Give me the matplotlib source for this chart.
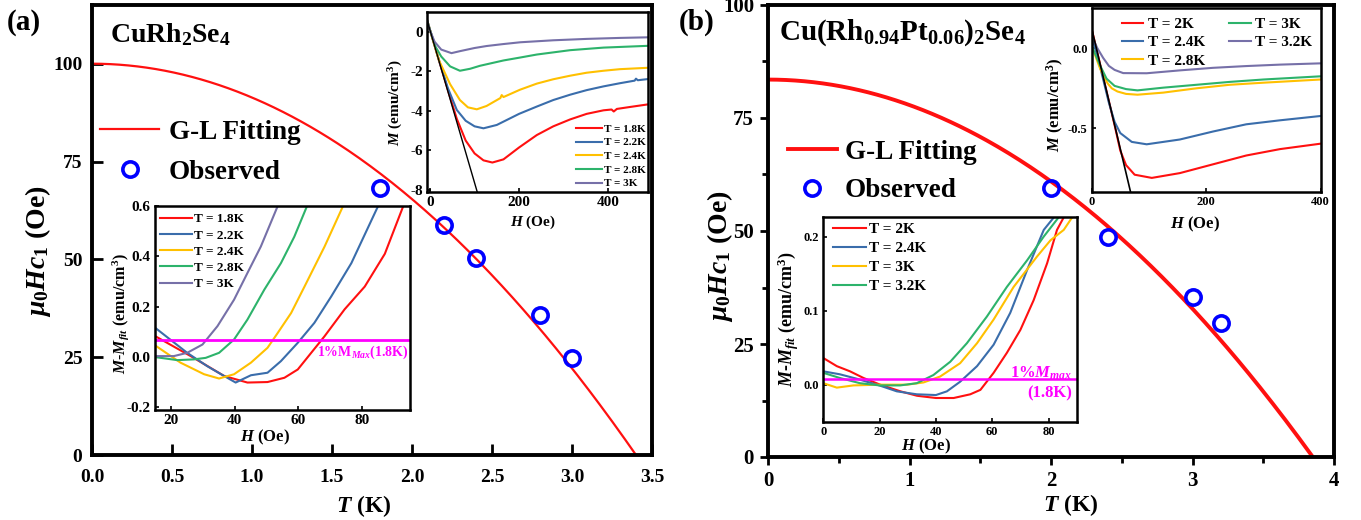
import matplotlib
matplotlib.use("Agg")
import matplotlib.pyplot as plt
from matplotlib.ticker import MultipleLocator, FixedLocator
import numpy as np

plt.rcParams['font.family'] = ['Liberation Serif', 'DejaVu Serif']
plt.rcParams['font.weight'] = 'bold'
plt.rcParams['axes.labelweight'] = 'bold'
plt.rcParams['mathtext.fontset'] = 'custom'
plt.rcParams['mathtext.rm'] = 'Liberation Serif:bold'
plt.rcParams['mathtext.it'] = 'Liberation Serif:italic:bold'
plt.rcParams['mathtext.bf'] = 'Liberation Serif:bold'
plt.rcParams['axes.unicode_minus'] = False

W, H = 1361, 520

RED = "#FF1010"
BLUE = "#3A6DAB"
YELLOW = "#FFC000"
GREEN = "#2DB36B"
PURPLE = "#7670A8"
MAGENTA = "#FF00FF"
OBS = "#0000FF"

# ---- (a) CuRh2Se4 ----
t_obs_a = [1.8, 2.2, 2.4, 2.8, 3.0]
hc1_obs_a = [68.3, 58.8, 50.4, 35.8, 24.8]
hc1_zero_a = 100.0
tc_a = 3.4

# M(H) loops, inset of (a)
temps_a = ["T = 1.8K", "T = 2.2K", "T = 2.4K", "T = 2.8K", "T = 3K"]
mh_a = {
    "T = 1.8K": ([-7, 0, 20, 40, 60, 80, 100, 120, 140, 165, 200, 240, 277, 315, 352, 390, 408, 413, 420, 450, 490],
                 [0.6, 0.07, -1.45, -2.95, -4.4, -5.5, -6.15, -6.5, -6.61, -6.45, -5.85, -5.22, -4.78, -4.43,
                  -4.15, -3.97, -3.93, -4.03, -3.9, -3.8, -3.67]),
    "T = 2.2K": ([-7, 0, 20, 40, 60, 80, 100, 120, 150, 200, 240, 277, 315, 352, 390, 427, 460, 463, 467, 490],
                 [0.6, 0.07, -1.45, -2.85, -3.95, -4.5, -4.78, -4.88, -4.71, -4.15, -3.78, -3.45, -3.18, -2.95,
                  -2.76, -2.6, -2.47, -2.37, -2.45, -2.39]),
    "T = 2.4K": ([-7, 0, 20, 45, 67, 85, 105, 127, 158, 161, 165, 202, 240, 277, 315, 352, 390, 427, 490],
                 [0.6, 0.07, -1.45, -2.65, -3.45, -3.82, -3.92, -3.75, -3.35, -3.2, -3.3, -2.93, -2.62, -2.4,
                  -2.22, -2.07, -1.97, -1.89, -1.82]),
    "T = 2.8K": ([-7, 0, 12, 25, 45, 67, 90, 112, 165, 203, 240, 315, 390, 490],
                 [0.6, 0.07, -0.75, -1.25, -1.75, -1.97, -1.87, -1.72, -1.45, -1.3, -1.15, -0.93, -0.8, -0.71]),
    "T = 3K": ([-7, 0, 10, 25, 48, 67, 100, 127, 165, 203, 277, 352, 427, 490],
               [0.6, 0.05, -0.5, -0.9, -1.08, -0.98, -0.82, -0.72, -0.62, -0.53, -0.43, -0.36, -0.31, -0.28]),
}
meissner_a = ([-7, 106], [0.6, -8.1])

# M - M_fit vs H, inset of (a)
dm_a = {
    "T = 1.8K": ([15.1, 26.2, 36.7, 44.0, 50.3, 55.6, 59.8, 64.0, 68.2, 74.5, 80.8, 87.1, 92.9],
                 [0.083, 0.004, -0.075, -0.101, -0.099, -0.082, -0.049, 0.017, 0.083, 0.19, 0.28, 0.41, 0.6]),
    "T = 2.2K": ([15.1, 25.1, 31.4, 36.7, 40.3, 45.1, 50.3, 54.5, 59.8, 65.0, 70.3, 76.6, 85.0],
                 [0.116, 0.017, -0.036, -0.075, -0.101, -0.072, -0.062, -0.016, 0.057, 0.136, 0.241, 0.373, 0.6]),
    "T = 2.4K": ([15.1, 23.0, 30.4, 35.1, 39.8, 45.1, 50.3, 53.5, 57.7, 61.9, 68.2, 74.0],
                 [0.046, -0.022, -0.068, -0.085, -0.068, -0.022, 0.037, 0.096, 0.175, 0.28, 0.439, 0.6]),
    "T = 2.8K": ([15.1, 22.0, 27.2, 30.9, 35.1, 39.8, 44.0, 49.3, 54.5, 58.7, 62.7],
                 [0.0, -0.012, -0.009, -0.003, 0.017, 0.07, 0.149, 0.268, 0.373, 0.478, 0.6]),
    "T = 3K": ([15.1, 20.9, 25.1, 29.9, 34.6, 39.8, 44.0, 48.2, 53.5],
               [0.004, 0.004, 0.017, 0.05, 0.123, 0.228, 0.334, 0.439, 0.6]),
}
level_a = 0.066

# ---- (b) Cu(Rh0.94Pt0.06)2Se4 ----
t_obs_b = [2.0, 2.4, 3.0, 3.2]
hc1_obs_b = [59.5, 48.7, 35.5, 29.6]
hc1_zero_b = 83.5
tc_b = 3.85

temps_b = ["T = 2K", "T = 2.4K", "T = 2.8K", "T = 3K", "T = 3.2K"]
mh_b = {
    "T = 2K": ([0, 20, 40, 50, 60, 75, 105, 154, 212, 270, 329, 400],
               [0.12, -0.18, -0.48, -0.64, -0.73, -0.79, -0.81, -0.78, -0.725, -0.67, -0.63, -0.596]),
    "T = 2.4K": ([0, 15, 30, 40, 50, 70, 96, 154, 212, 270, 329, 400],
                 [0.08, -0.12, -0.34, -0.46, -0.53, -0.585, -0.6, -0.57, -0.52, -0.475, -0.45, -0.423]),
    "T = 2.8K": ([0, 15, 28, 35, 45, 60, 80, 125, 183, 241, 300, 350, 400],
                 [0.015, -0.13, -0.22, -0.25, -0.27, -0.285, -0.29, -0.277, -0.25, -0.228, -0.215, -0.205, -0.195]),
    "T = 3K": ([0, 15, 26, 40, 60, 80, 125, 183, 241, 300, 350, 400],
               [0.015, -0.11, -0.19, -0.235, -0.255, -0.263, -0.246, -0.228, -0.21, -0.195, -0.185, -0.175]),
    "T = 3.2K": ([0, 10, 20, 30, 40, 55, 96, 154, 212, 270, 329, 400],
                 [0.077, 0.0, -0.06, -0.11, -0.135, -0.155, -0.156, -0.138, -0.122, -0.111, -0.102, -0.094]),
}
meissner_b = ([0, 68], [0.123, -0.9])

temps_b2 = ["T = 2K", "T = 2.4K", "T = 3K", "T = 3.2K"]
dm_b = {
    "T = 2K": ([0, 4.8, 9.5, 14.3, 20.2, 27.4, 33.3, 40, 46.3, 52.2, 55.8, 60.5, 65.2, 70, 74.7, 79.5, 83, 85.4],
               [0.036, 0.025, 0.018, 0.009, 0.0, -0.009, -0.015, -0.018, -0.018, -0.013, -0.007, 0.016, 0.043,
                0.074, 0.114, 0.164, 0.209, 0.226]),
    "T = 2.4K": ([0, 5.9, 11.9, 19.9, 26.1, 33.2, 40, 43.9, 48.6, 54.6, 60.5, 66.4, 72.4, 78.3, 81.9],
                 [0.018, 0.014, 0.008, -0.001, -0.009, -0.013, -0.014, -0.009, 0.004, 0.025, 0.054, 0.097, 0.155,
                  0.209, 0.226]),
    "T = 3K": ([0, 4.8, 10.7, 20, 29.7, 35.6, 41.5, 48.6, 54.6, 60.5, 67.6, 75.9, 80.7, 85.4, 88.4],
               [0.002, -0.004, -0.001, 0.0, 0.0, 0.003, 0.011, 0.029, 0.056, 0.088, 0.132, 0.173, 0.195, 0.209,
                0.226]),
    "T = 3.2K": ([0, 5.9, 13, 20, 27.3, 33.2, 39.1, 45.1, 51, 58.1, 65.2, 72.4, 78.3, 83.6],
                 [0.016, 0.009, 0.002, -0.001, -0.001, 0.002, 0.013, 0.031, 0.056, 0.092, 0.132, 0.168, 0.2,
                  0.226]),
}
level_b = 0.008

colors_a = {"T = 1.8K": RED, "T = 2.2K": BLUE, "T = 2.4K": YELLOW, "T = 2.8K": GREEN, "T = 3K": PURPLE}
colors_b = {"T = 2K": RED, "T = 2.4K": BLUE, "T = 2.8K": YELLOW, "T = 3K": GREEN, "T = 3.2K": PURPLE}
colors_b2 = {"T = 2K": RED, "T = 2.4K": BLUE, "T = 3K": YELLOW, "T = 3.2K": GREEN}


def px_box(l, t, r, b):
    return [l / W, 1 - b / H, (r - l) / W, (b - t) / H]


def frame(ax, lw):
    for s in ax.spines.values():
        s.set_linewidth(lw)


def gl_curve(h0, tc):
    t = np.linspace(0, tc, 300)
    return t, h0 * (1 - (t / tc) ** 2)


fig = plt.figure(figsize=(W / 100, H / 100), dpi=100)

# ---------------- panel (a) ----------------
ax = fig.add_axes(px_box(92, 5, 652, 455))
t, hc = gl_curve(hc1_zero_a, tc_a)
ax.plot(t, hc, color=RED, lw=1.6, label="G-L Fitting")
ax.plot(t_obs_a, hc1_obs_a, "o", ms=11, mfc="none", mec=OBS, mew=2.6, ls="none", label="Observed")
ax.set_xlim(0, 3.5)
ax.set_ylim(0, 115)
ax.xaxis.set_major_locator(MultipleLocator(0.5))
ax.yaxis.set_major_locator(FixedLocator([0, 25, 50, 75, 100]))
ax.xaxis.set_major_formatter(plt.FormatStrFormatter("%.1f"))
ax.tick_params(direction="in", length=8, width=2, labelsize=14)
ax.tick_params(axis="x", pad=10)
ax.tick_params(axis="y", pad=7)
frame(ax, 2.8)
ax.set_xlabel(r"$T$ (K)", fontsize=17)
ax.set_ylabel(r"$\mu_{\mathit{0}}Hc_{\mathit{1}}$ (Oe)", fontsize=20)
ax.xaxis.set_label_coords(0.486, -0.085)
ax.yaxis.set_label_coords(-0.07, 0.453)
ax.legend(loc="upper left", bbox_to_anchor=(0.014, 0.745), frameon=False, fontsize=19.5,
          handlelength=2.2, handletextpad=0.35, labelspacing=0.55, borderpad=0, borderaxespad=0)

fig.text(24 / W, 1 - 23 / H, "(a)", fontsize=21, ha="center", va="center")
fig.text(110 / W, 1 - 42 / H, r"CuRh$_2$Se$_4$", fontsize=20, ha="left", va="baseline")

# inset: M(H)
ia = fig.add_axes(px_box(427, 12, 648, 192))
for name in temps_a:
    hh, mm = mh_a[name]
    ia.plot(hh, mm, color=colors_a[name], lw=1.5, label=name)
ia.plot(*meissner_a, color="black", lw=1.0)
ia.set_xlim(-7, 490)
ia.set_ylim(-8.1, 1.0)
ia.xaxis.set_major_locator(FixedLocator([0, 200, 400]))
ia.yaxis.set_major_locator(FixedLocator([0, -2, -4, -6, -8]))
ia.tick_params(direction="in", length=3, width=1.2, labelsize=11, pad=3)
frame(ia, 1.8)
ia.set_xlabel(r"$H$ (Oe)", fontsize=11)
ia.set_ylabel(r"$M$ (emu/cm$^3$)", fontsize=11)
ia.xaxis.set_label_coords(0.48, -0.122)
ia.yaxis.set_label_coords(-0.1, 0.494)
ia.legend(loc="lower right", bbox_to_anchor=(0.99, 0.02), frameon=False, fontsize=8,
          handlelength=2.4, handletextpad=0.15, labelspacing=0.35, borderpad=0, borderaxespad=0)

# inset: M - M_fit
ib = fig.add_axes(px_box(155, 206, 410, 410))
for name in temps_a:
    hh, dd = dm_a[name]
    ib.plot(hh, dd, color=colors_a[name], lw=1.5, label=name)
ib.axhline(level_a, color=MAGENTA, lw=2)
ib.text(0.995, 0.284, r"1%M$_{Max}$(1.8K)", transform=ib.transAxes, color=MAGENTA,
        fontsize=10, ha="right", va="center")
ib.set_xlim(15, 95)
ib.set_ylim(-0.21, 0.6)
ib.xaxis.set_major_locator(FixedLocator([20, 40, 60, 80]))
ib.yaxis.set_major_locator(FixedLocator([-0.2, 0.0, 0.2, 0.4, 0.6]))
ib.yaxis.set_major_formatter(plt.FormatStrFormatter("%.1f"))
ib.tick_params(direction="in", length=3, width=1.2, labelsize=11, pad=3)
frame(ib, 1.8)
ib.set_xlabel(r"$H$ (Oe)", fontsize=12)
ib.set_ylabel(r"$M$-$M_{fit}$ (emu/cm$^3$)", fontsize=11.5)
ib.xaxis.set_label_coords(0.43, -0.088)
ib.yaxis.set_label_coords(-0.094, 0.47)
ib.legend(loc="upper left", bbox_to_anchor=(0.02, 0.965), frameon=False, fontsize=9.5,
          handlelength=2.4, handletextpad=0.2, labelspacing=0.3, borderpad=0, borderaxespad=0)

# ---------------- panel (b) ----------------
bx = fig.add_axes(px_box(768, 5, 1334, 457))
t, hc = gl_curve(hc1_zero_b, tc_b)
bx.plot(t, hc, color=RED, lw=2.8, label="G-L Fitting")
bx.plot(t_obs_b, hc1_obs_b, "o", ms=11, mfc="none", mec=OBS, mew=2.6, ls="none", label="Observed")
bx.set_xlim(0, 4)
bx.set_ylim(0, 100)
bx.xaxis.set_major_locator(MultipleLocator(1))
bx.xaxis.set_minor_locator(MultipleLocator(0.5))
bx.yaxis.set_major_locator(MultipleLocator(25))
bx.yaxis.set_minor_locator(MultipleLocator(12.5))
bx.tick_params(which="both", direction="out", width=2, labelsize=15)
bx.tick_params(axis="x", which="major", length=6, pad=4)
bx.tick_params(axis="y", which="major", length=6, pad=4)
bx.tick_params(which="minor", length=4)
bx.tick_params(top=False, right=False, which="both")
frame(bx, 2.8)
bx.set_xlabel(r"$T$ (K)", fontsize=17)
bx.set_ylabel(r"$\mu_{\mathit{0}}Hc_{\mathit{1}}$ (Oe)", fontsize=20)
bx.xaxis.set_label_coords(0.535, -0.077)
bx.yaxis.set_label_coords(-0.058, 0.445)
bx.legend(loc="upper left", bbox_to_anchor=(0.035, 0.702), frameon=False, fontsize=19.5,
          handlelength=1.8, handletextpad=0.3, labelspacing=0.5, borderpad=0, borderaxespad=0)

fig.text(697 / W, 1 - 22 / H, "(b)", fontsize=21, ha="center", va="center")
fig.text(779 / W, 1 - 40 / H, r"Cu(Rh$_{0.94}$Pt$_{0.06}$)$_2$Se$_4$", fontsize=21, ha="left", va="baseline")

# inset: M(H)
ic = fig.add_axes(px_box(1091.7, 8.3, 1320.7, 192.3))
for name in temps_b:
    hh, mm = mh_b[name]
    ic.plot(hh, mm, color=colors_b[name], lw=1.5, label=name)
ic.plot(*meissner_b, color="black", lw=1.2)
ic.set_xlim(0, 400)
ic.set_ylim(-0.9, 0.25)
ic.xaxis.set_major_locator(FixedLocator([0, 200, 400]))
ic.yaxis.set_major_locator(FixedLocator([0.0, -0.5]))
ic.yaxis.set_major_formatter(plt.FormatStrFormatter("%.1f"))
ic.tick_params(direction="in", length=3, width=1.2, labelsize=9, pad=3)
frame(ic, 1.8)
ic.set_xlabel(r"$H$ (Oe)", fontsize=12)
ic.set_ylabel(r"$M$ (emu/cm$^3$)", fontsize=12)
ic.xaxis.set_label_coords(0.45, -0.123)
ic.yaxis.set_label_coords(-0.112, 0.474)
ic.legend(loc="upper left", bbox_to_anchor=(0.131, 0.95), ncol=2, frameon=False, fontsize=11,
          handlelength=1.4, handletextpad=0.3, columnspacing=1.6, labelspacing=0.3,
          borderpad=0, borderaxespad=0)

# inset: M - M_fit
idd = fig.add_axes(px_box(823.3, 217.3, 1076.7, 421.7))
for name in temps_b2:
    hh, dd = dm_b[name]
    idd.plot(hh, dd, color=colors_b2[name], lw=1.5, label=name)
idd.axhline(level_b, color=MAGENTA, lw=1.8)
idd.text(0.98, 0.237, r"1%$M_{max}$", transform=idd.transAxes, color=MAGENTA,
         fontsize=12, ha="right", va="center")
idd.text(0.98, 0.139, "(1.8K)", transform=idd.transAxes, color=MAGENTA,
         fontsize=12, ha="right", va="center")
idd.set_xlim(0, 90)
idd.set_ylim(-0.05, 0.226)
idd.xaxis.set_major_locator(FixedLocator([0, 20, 40, 60, 80]))
idd.yaxis.set_major_locator(FixedLocator([0.0, 0.1, 0.2]))
idd.yaxis.set_major_formatter(plt.FormatStrFormatter("%.1f"))
idd.tick_params(direction="in", length=3, width=1.2, labelsize=9, pad=3)
frame(idd, 1.8)
idd.set_xlabel(r"$H$ (Oe)", fontsize=12)
idd.set_ylabel(r"$M$-$M_{fit}$ (emu/cm$^3$)", fontsize=13)
idd.xaxis.set_label_coords(0.407, -0.075)
idd.yaxis.set_label_coords(-0.088, 0.5)
idd.legend(loc="upper left", bbox_to_anchor=(0.037, 0.974), frameon=False, fontsize=11,
           handlelength=2.2, handletextpad=0.15, labelspacing=0.35, borderpad=0, borderaxespad=0)

fig.savefig("out.png", dpi=100)
